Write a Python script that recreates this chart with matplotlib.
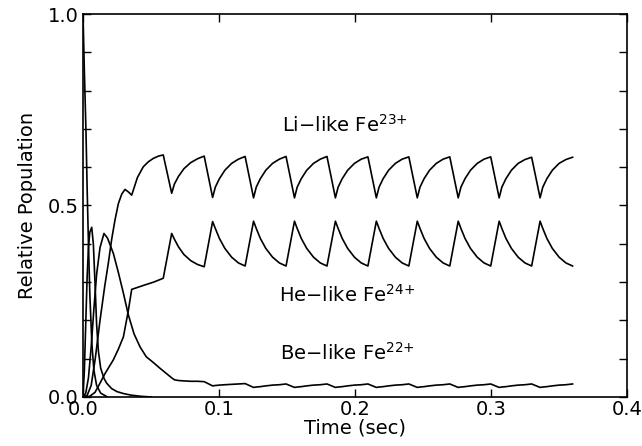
import numpy as np
import matplotlib.pyplot as plt
from matplotlib.ticker import MultipleLocator

OUTPUT_FILE = 'out.png'

# initial state, decays from 1.0
t_init = [0.0, 0.001, 0.0022, 0.003, 0.004, 0.005, 0.0065, 0.008, 0.010, 0.013, 0.018]
v_init = [1.0, 0.85, 0.69, 0.55, 0.40, 0.27, 0.14, 0.07, 0.03, 0.01, 0.0]

# short-lived intermediate stage
t_mid = [0.0, 0.001, 0.002, 0.003, 0.004, 0.005, 0.0064, 0.0076, 0.0088, 0.010,
         0.0113, 0.013, 0.0155, 0.0174, 0.021, 0.025, 0.0297, 0.035, 0.042, 0.050]
v_mid = [0.0, 0.07, 0.19, 0.31, 0.39, 0.43, 0.443, 0.40, 0.30, 0.19,
         0.12, 0.075, 0.048, 0.036, 0.022, 0.014, 0.009, 0.005, 0.002, 0.0]

# times of the repeating part (trough, rise ..., next peak) shared by Li, He, Be
t_cycle = [0.0652, 0.0672, 0.0702, 0.0742, 0.0792, 0.0842, 0.0891,
           0.0953, 0.0973, 0.1003, 0.1043, 0.1093, 0.1143, 0.1192,
           0.1254, 0.1274, 0.1304, 0.1344, 0.1394, 0.1444, 0.1493,
           0.1555, 0.1575, 0.1605, 0.1645, 0.1695, 0.1745, 0.1794,
           0.1856, 0.1876, 0.1906, 0.1946, 0.1996, 0.2046, 0.2095,
           0.2157, 0.2177, 0.2207, 0.2247, 0.2297, 0.2347, 0.2396,
           0.2458, 0.2478, 0.2508, 0.2548, 0.2598, 0.2648, 0.2697,
           0.2759, 0.2779, 0.2809, 0.2849, 0.2899, 0.2949, 0.2998,
           0.3060, 0.3080, 0.3110, 0.3150, 0.3200, 0.3250, 0.3299,
           0.3361, 0.3381, 0.3411, 0.3451, 0.3501, 0.3551, 0.3600]

# Li-like Fe23+
t_li_early = [0.0, 0.003, 0.006, 0.009, 0.0125, 0.016, 0.0186, 0.021, 0.0235, 0.026,
              0.0285, 0.0309, 0.0335, 0.0358, 0.040, 0.0443, 0.048, 0.0517, 0.0555, 0.0590]
v_li_early = [0.0, 0.004, 0.03, 0.10, 0.20, 0.29, 0.349, 0.41, 0.462, 0.505,
              0.530, 0.542, 0.535, 0.527, 0.573, 0.601, 0.614, 0.623, 0.629, 0.632]
v_li_cycle = [0.532, 0.556, 0.576, 0.596, 0.612, 0.622, 0.629,
              0.521, 0.548, 0.570, 0.592, 0.610, 0.621, 0.628,
              0.520, 0.548, 0.570, 0.592, 0.610, 0.621, 0.628,
              0.520, 0.548, 0.570, 0.592, 0.610, 0.621, 0.628,
              0.520, 0.548, 0.570, 0.592, 0.610, 0.621, 0.627,
              0.520, 0.548, 0.570, 0.592, 0.610, 0.621, 0.627,
              0.520, 0.548, 0.570, 0.592, 0.610, 0.621, 0.627,
              0.520, 0.548, 0.570, 0.592, 0.610, 0.621, 0.627,
              0.520, 0.548, 0.570, 0.592, 0.610, 0.620, 0.626,
              0.520, 0.548, 0.570, 0.592, 0.610, 0.620, 0.626]

# He-like Fe24+
t_he_early = [0.0, 0.005, 0.0088, 0.0125, 0.016, 0.0194, 0.0223, 0.026, 0.0297,
              0.0333, 0.0358, 0.045, 0.052, 0.0590]
v_he_early = [0.0, 0.002, 0.012, 0.036, 0.06, 0.08, 0.097, 0.125, 0.157,
              0.225, 0.281, 0.292, 0.300, 0.310]
v_he_cycle = [0.427, 0.412, 0.392, 0.372, 0.356, 0.346, 0.340,
              0.458, 0.440, 0.414, 0.388, 0.365, 0.350, 0.342,
              0.459, 0.440, 0.414, 0.388, 0.365, 0.350, 0.342,
              0.459, 0.440, 0.414, 0.388, 0.365, 0.350, 0.342,
              0.459, 0.440, 0.414, 0.388, 0.365, 0.350, 0.342,
              0.459, 0.440, 0.414, 0.388, 0.365, 0.350, 0.342,
              0.459, 0.440, 0.414, 0.388, 0.365, 0.350, 0.342,
              0.459, 0.440, 0.414, 0.388, 0.365, 0.350, 0.342,
              0.459, 0.440, 0.414, 0.388, 0.365, 0.350, 0.342,
              0.459, 0.440, 0.414, 0.388, 0.365, 0.350, 0.342]

# Be-like Fe22+
t_be_early = [0.0, 0.002, 0.004, 0.006, 0.008, 0.010, 0.0125, 0.0154, 0.018, 0.0223,
              0.026, 0.0297, 0.0333, 0.0375, 0.0419, 0.0465, 0.0517, 0.0566, 0.0590]
v_be_early = [0.0, 0.01, 0.05, 0.13, 0.23, 0.32, 0.39, 0.427, 0.415, 0.375,
              0.325, 0.271, 0.215, 0.165, 0.131, 0.105, 0.090, 0.075, 0.068]
v_be_cycle = [0.050, 0.045, 0.043, 0.042, 0.041, 0.041, 0.040,
              0.029, 0.030, 0.031, 0.032, 0.033, 0.034, 0.035,
              0.025, 0.026, 0.027, 0.029, 0.031, 0.032, 0.034,
              0.025, 0.026, 0.027, 0.029, 0.031, 0.032, 0.034,
              0.025, 0.026, 0.027, 0.029, 0.031, 0.032, 0.034,
              0.025, 0.026, 0.027, 0.029, 0.031, 0.032, 0.034,
              0.025, 0.026, 0.027, 0.029, 0.031, 0.032, 0.034,
              0.025, 0.026, 0.027, 0.029, 0.031, 0.032, 0.034,
              0.025, 0.026, 0.027, 0.029, 0.031, 0.032, 0.034,
              0.025, 0.026, 0.027, 0.029, 0.031, 0.032, 0.034]

labels = ['Li\u2212like Fe$^{\\mathregular{23{+}}}$',
          'He\u2212like Fe$^{\\mathregular{24{+}}}$',
          'Be\u2212like Fe$^{\\mathregular{22{+}}}$']
label_pos = [(0.146, 0.71), (0.144, 0.266), (0.145, 0.115)]

plt.rcParams['font.family'] = ['DejaVu Sans']

fig = plt.figure(figsize=(6.42, 4.46), dpi=100)
ax = fig.add_axes([0.1293, 0.1099, 0.8473, 0.8587])

lw = 1.2
ax.plot(t_init, v_init, color='black', lw=lw)
ax.plot(t_mid, v_mid, color='black', lw=lw)
ax.plot(t_li_early + t_cycle, v_li_early + v_li_cycle, color='black', lw=lw)
ax.plot(t_he_early + t_cycle, v_he_early + v_he_cycle, color='black', lw=lw)
ax.plot(t_be_early + t_cycle, v_be_early + v_be_cycle, color='black', lw=lw)

for text, (x, y) in zip(labels, label_pos):
    ax.text(x, y, text, fontsize=14, ha='left', va='center')

ax.set_xlim(0, 0.4)
ax.set_ylim(0, 1.0)
ax.xaxis.set_major_locator(MultipleLocator(0.1))
ax.yaxis.set_major_locator(MultipleLocator(0.5))
ax.yaxis.set_minor_locator(MultipleLocator(0.1))
ax.xaxis.set_major_formatter(plt.FormatStrFormatter('%.1f'))
ax.yaxis.set_major_formatter(plt.FormatStrFormatter('%.1f'))
ax.tick_params(which='both', direction='in', top=True, right=True,
               length=6, width=1.0, labelsize=14, pad=3)
ax.tick_params(axis='x', pad=2)
for s in ax.spines.values():
    s.set_linewidth(1.2)

ax.set_xlabel('Time (sec)', fontsize=14, labelpad=0)
ax.set_ylabel('Relative Population', fontsize=14, labelpad=8)

plt.savefig(OUTPUT_FILE, dpi=100)
